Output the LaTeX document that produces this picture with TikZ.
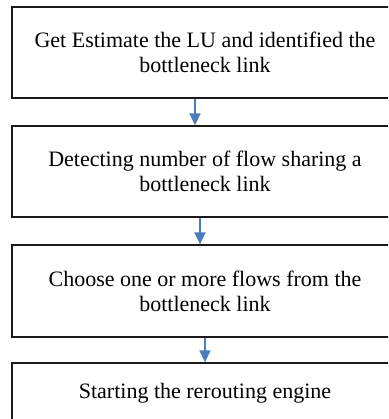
\documentclass[tikz,border=0pt]{standalone}
\usepackage{fontspec}
\setmainfont{Liberation Serif}
\usetikzlibrary{arrows.meta}
\definecolor{arrowblue}{HTML}{4A7EBB}
\definecolor{boxline}{HTML}{1A1A1A}
\begin{document}
\begin{tikzpicture}[x=1pt,y=-1pt,
  flowbox/.style={draw=boxline,line width=1.3pt,rectangle,minimum width=386pt,
    align=center,inner sep=0pt,font=\fontsize{22}{25}\selectfont},
  flowarrow/.style={draw=arrowblue,line width=1.6pt,
    -{Triangle[length=12pt,width=11pt]}}]
\useasboundingbox (0,0) rectangle (388,419);
\clip (0,0) rectangle (388,419);
\node[flowbox,minimum height=91pt] (b1) at (205,52.5) {Get Estimate the LU and identified the\\bottleneck link};
\node[flowbox,minimum height=91pt] (b2) at (205,171.5) {Detecting number of flow sharing a\\bottleneck link};
\node[flowbox,minimum height=92pt] (b3) at (205,291) {Choose one or more flows from the\\bottleneck link};
\node[flowbox,minimum height=60pt] (b4) at (205,393) {Starting the rerouting engine};
\coordinate (x1) at (195,0);
\coordinate (x2) at (200,0);
\coordinate (x3) at (205,0);
\draw[flowarrow] (b1.south -| x1) -- (b2.north -| x1);
\draw[flowarrow] (b2.south -| x2) -- (b3.north -| x2);
\draw[flowarrow] (b3.south -| x3) -- (b4.north -| x3);
\end{tikzpicture}
\end{document}
